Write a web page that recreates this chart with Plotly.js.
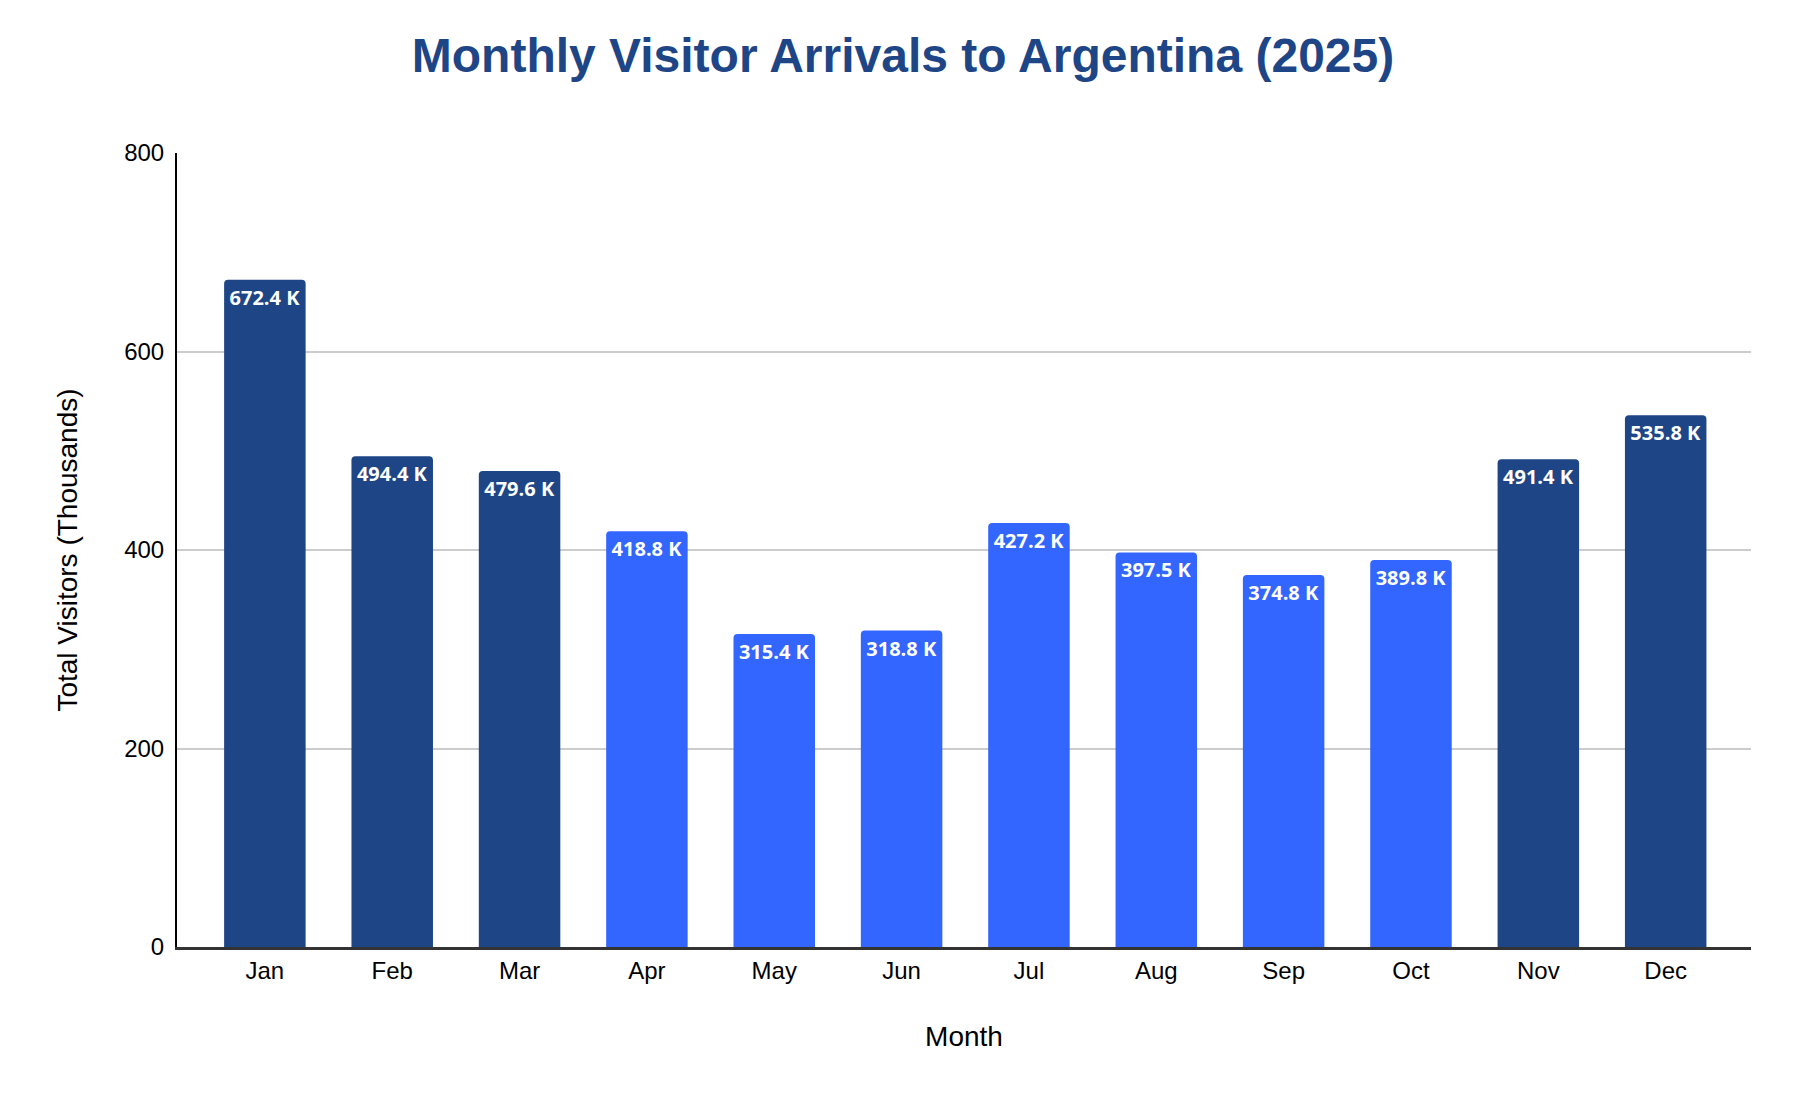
<!DOCTYPE html>
<html>
<head>
<meta charset="utf-8">
<script src="https://cdn.plot.ly/plotly-3.0.1.min.js"></script>
<style>
  html, body { margin: 0; padding: 0; background: #ffffff; }
  #chart { width: 1806px; height: 1108px; }
</style>
</head>
<body>
<div id="chart"></div>
<script>
var months = ["Jan", "Feb", "Mar", "Apr", "May", "Jun", "Jul", "Aug", "Sep", "Oct", "Nov", "Dec"];
var visitors = [672.4, 494.4, 479.6, 418.8, 315.4, 318.8, 427.2, 397.5, 374.8, 389.8, 491.4, 535.8];
var highSeason = [true, true, true, false, false, false, false, false, false, false, true, true];
var yTicks = [0, 200, 400, 600, 800];

var darkBlue = "#1e4586",
    brightBlue = "#3366ff";

var colors = highSeason.map(function (h) { return h ? darkBlue : brightBlue; });
var labels = visitors.map(function (v) { return v.toFixed(1) + " K"; });

var trace = {
    x: months,
    y: visitors,
    type: "bar",
    marker: {
        color: colors,
        cornerradius: 4,
        line: { width: 0 },
    },
    text: labels,
    textposition: "inside",
    insidetextanchor: "end",
    textangle: 0,
    textfont: {
        family: "Open Sans, sans-serif",
        size: 20,
        color: "#ffffff",
        weight: "bold",
    },
    hoverinfo: "none",
};

var layout = {
    width: 1806,
    height: 1108,
    paper_bgcolor: "#ffffff",
    plot_bgcolor: "#ffffff",
    showlegend: false,
    bargap: 0.36,
    font: { family: "Liberation Sans, Arial, sans-serif", color: "#000000" },
    title: {
        text: "<b>Monthly Visitor Arrivals to Argentina (2025)</b>",
        x: 0.5,
        xanchor: "center",
        y: 0.95,
        yanchor: "middle",
        font: { size: 48, color: "#1e4586", family: "Liberation Sans, Arial, sans-serif" },
    },
    margin: { l: 177, r: 55, t: 153, b: 161, pad: 0 },
    xaxis: {
        type: "category",
        range: [-0.69, 11.67],
        showgrid: false,
        showline: true,
        linecolor: "#333333",
        linewidth: 3,
        ticks: "",
        tickfont: { size: 24, color: "#000000" },
        title: {
            text: "Month",
            font: { size: 28, color: "#000000" },
            standoff: 44,
        },
        zeroline: false,
    },
    yaxis: {
        range: [0, 800],
        tickvals: yTicks,
        ticktext: yTicks.map(String),
        showgrid: true,
        gridcolor: "#cccccc",
        gridwidth: 2,
        showline: true,
        linecolor: "#000000",
        linewidth: 2,
        ticks: "",
        ticklabelstandoff: 6,
        tickfont: { size: 24, color: "#000000" },
        zeroline: false,
        title: {
            text: "Total Visitors (Thousands)",
            font: { size: 28, color: "#000000" },
            standoff: 38,
        },
    },
};

Plotly.newPlot("chart", [trace], layout, { staticPlot: true, displayModeBar: false });
</script>
</body>
</html>
